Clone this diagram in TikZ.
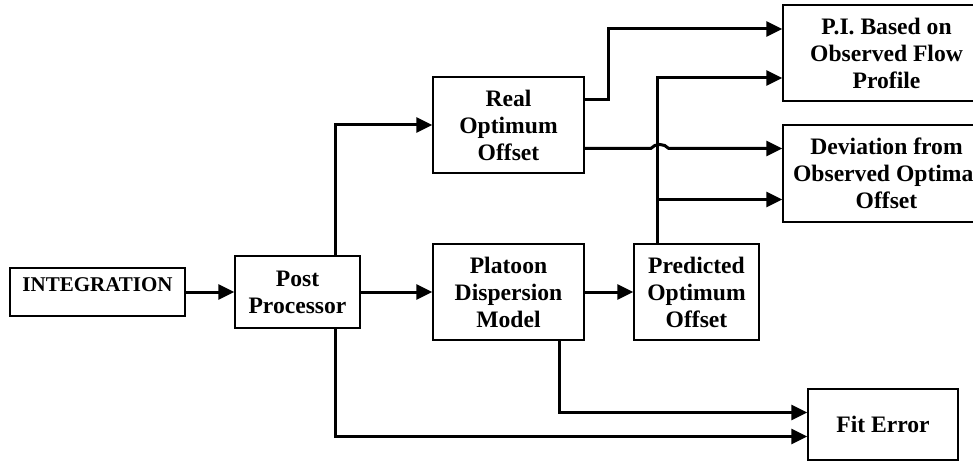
\documentclass[tikz,border=0pt]{standalone}
\usepackage{fontspec}
\setmainfont{Liberation Serif}
\usetikzlibrary{arrows.meta}
\begin{document}
\begin{tikzpicture}[x=1pt,y=1pt,
    box/.style={draw, line width=1.5pt, align=center, inner sep=0pt,
      font=\fontsize{23.6}{27}\selectfont\bfseries},
    link/.style={line width=3pt, -{Triangle[length=16pt,width=15pt]}}]
  \useasboundingbox (0,0) rectangle (973,461);
  \node[box, minimum width=175pt, text height=23pt, text depth=25pt,
    font=\fontsize{21}{24}\selectfont\bfseries] (integ) at (97.5,169) {INTEGRATION};
  \node[box, minimum width=125pt, minimum height=72pt] (post) at (297.5,169) {Post\\Processor};
  \node[box, minimum width=151pt, minimum height=96pt] (real) at (508.5,336) {Real\\Optimum\\Offset};
  \node[box, minimum width=151pt, minimum height=96pt] (plat) at (508.5,169) {Platoon\\Dispersion\\Model};
  \node[box, minimum width=125pt, minimum height=96pt] (pred) at (696.5,169) {Predicted\\Optimum\\Offset};
  \node[box, minimum width=207pt, minimum height=96pt] (pi) at (886.5,408) {P.I. Based on\\Observed Flow\\Profile};
  \node[box, minimum width=207pt, minimum height=97pt] (dev) at (886.5,287.5) {Deviation from\\Observed Optimal\\Offset};
  \node[box, minimum width=150pt, minimum height=71pt] (fit) at (883,36.5) {Fit Error};
  % arrow entry points
  \coordinate (pin1) at ([yshift=24pt]pi.west);
  \coordinate (pin2) at ([yshift=-25pt]pi.west);
  \coordinate (din1) at ([yshift=25pt]dev.west);
  \coordinate (din2) at ([yshift=-26pt]dev.west);
  \coordinate (fin1) at ([yshift=12pt]fit.west);
  \coordinate (fin2) at ([yshift=-12pt]fit.west);
  \coordinate (ptap) at ([xshift=24pt]pred.north west);
  \begin{scope}[link]
    \draw (integ) -- (post);
    \draw (post) -- (plat);
    \draw (plat) -- (pred);
    \draw ([xshift=-25pt]post.north east) |- (real.west);
    \draw ([xshift=-25pt]post.south east) |- (fin2);
    \draw ([xshift=-25pt]plat.south east) |- (fin1);
    \draw ([yshift=25pt]real.east) -- ++(24,0) |- (pin1);
    \draw (real.east |- din1) -- ++(66,0) to[out=50,in=130] ++(18,0) -- (din1);
    \draw (ptap) |- (pin2);
    \draw (ptap |- din2) -- (din2);
  \end{scope}
\end{tikzpicture}
\end{document}
